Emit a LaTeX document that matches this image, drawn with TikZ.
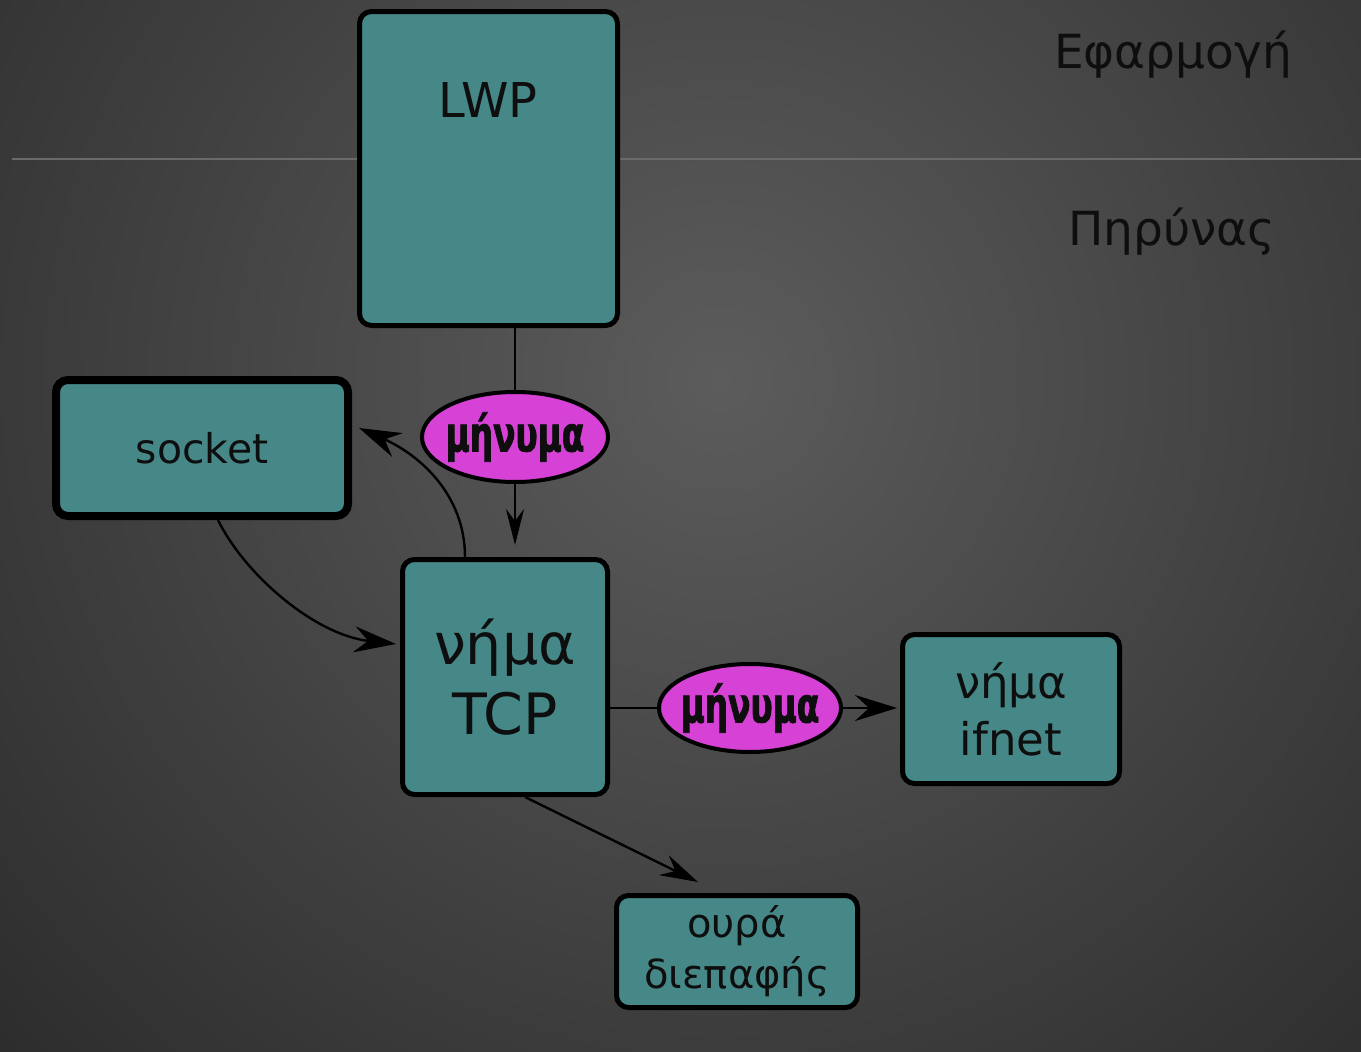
\documentclass[tikz,border=0pt]{standalone}
\usepackage{fontspec}
\setmainfont{DejaVu Sans}
\newfontfamily\ellfont[FakeStretch=0.67,FakeBold=1.6]{DejaVu Sans Bold}
\usetikzlibrary{shapes.geometric,arrows.meta,calc}
\definecolor{boxfill}{HTML}{468888}
\definecolor{msgfill}{HTML}{D542D5}
\definecolor{ink}{HTML}{0E0E0E}
\definecolor{bgin}{HTML}{5C5C5C}
\definecolor{bgout}{HTML}{2C2C2C}
\definecolor{rulegray}{HTML}{6A6A6A}

% message label whose width does not widen the ellipse around it
\newcommand{\msgtext}[1]{\makebox[0pt][c]{#1}}

\begin{document}
\begin{tikzpicture}[x=1pt,y=-1pt,
  box/.style={draw=black, line width=5pt, fill=boxfill, rounded corners=12pt,
    inner sep=0pt, text=ink, align=center},
  msg/.style={ellipse, draw=black, line width=4pt, fill=msgfill, inner sep=0pt,
    text=ink, font=\ellfont\fontsize{49}{49}\selectfont},
  conn/.style={draw=black, line width=2.4pt},
  flow/.style={conn, -{Stealth[length=42pt,width=26pt,inset=14pt]}},
  layer/.style={text=ink, anchor=base, font=\fontsize{47}{47}\selectfont}]

% canvas with a soft radial light
\useasboundingbox (0,0) rectangle (1361,1052);
\begin{scope}
  \clip (0,0) rectangle (1361,1052);
  \shade[inner color=bgin, outer color=bgout] (720,380) circle (1000);
\end{scope}

% boundary between user space and kernel
\coordinate (ruleL) at (12,159);
\coordinate (ruleR) at (1361,159);
\draw[rulegray, line width=2pt] (ruleL) -- (ruleR);

% layer captions
\node[layer] (app) at (1173,68) {Εφαρμογή};
\node[layer] (kern) at (1172,245) {Πηρύνας};

% processing blocks
\node[box, minimum width=258pt, minimum height=314pt] (lwp) at (488.5,168.5) {};
\node[text=ink, font=\fontsize{48}{48}\selectfont] (lwptext) at (488,100) {LWP};
\node[box, line width=8pt, minimum width=292pt, minimum height=136pt,
  font=\fontsize{41}{41}\selectfont] (socket) at (202,448) {socket};
\node[box, minimum width=205pt, minimum height=235pt,
  font=\fontsize{57}{70}\selectfont] (tcp) at (505,677) {νήμα\\TCP};
\node[box, minimum width=217pt, minimum height=149pt,
  font=\fontsize{45}{57}\selectfont] (ifnet) at (1011,709) {νήμα\\ifnet};
\node[box, minimum width=241pt, minimum height=112pt,
  font=\fontsize{40}{51}\selectfont] (queue) at (737,951.5) {ουρά\\διεπαφής};

% messages
\node[msg, minimum width=186pt, minimum height=90pt] (m1) at (515,437) {\msgtext{μήνυμα}};
\node[msg, minimum width=182pt, minimum height=88pt] (m2) at (750,708) {\msgtext{μήνυμα}};

% connectors
\draw[conn] (m1 |- lwp.south) -- (m1.north);
\draw[conn, -{Stealth[length=36pt,width=18pt,inset=12pt]}, shorten >=12pt]
  (m1.south) -- (m1 |- tcp.north);

\coordinate (tcpout) at ($(tcp.north)+(-40,0)$);
\coordinate (sockin) at ($(socket.east)+(7,-20)$);
\draw[flow] (tcpout) .. controls (465,495) and (420,455) .. (sockin);

\coordinate (sockout) at ($(socket.south)+(16,0)$);
\coordinate (tcpin) at ($(tcp.west)+(-4,-33)$);
\draw[flow] (sockout) .. controls (245,575) and (315,635) .. (tcpin);

\draw[conn] (tcp.east |- m2) -- (m2.west);
\draw[flow, shorten >=3pt] (m2.east) -- (ifnet.west |- m2);

\coordinate (tcpdown) at ($(tcp.south)+(20,0)$);
\coordinate (queuein) at ($(queue.north)+(-39,-11)$);
\draw[conn, -{Stealth[length=38pt,width=22pt,inset=13pt]}] (tcpdown) -- (queuein);

\end{tikzpicture}
\end{document}
